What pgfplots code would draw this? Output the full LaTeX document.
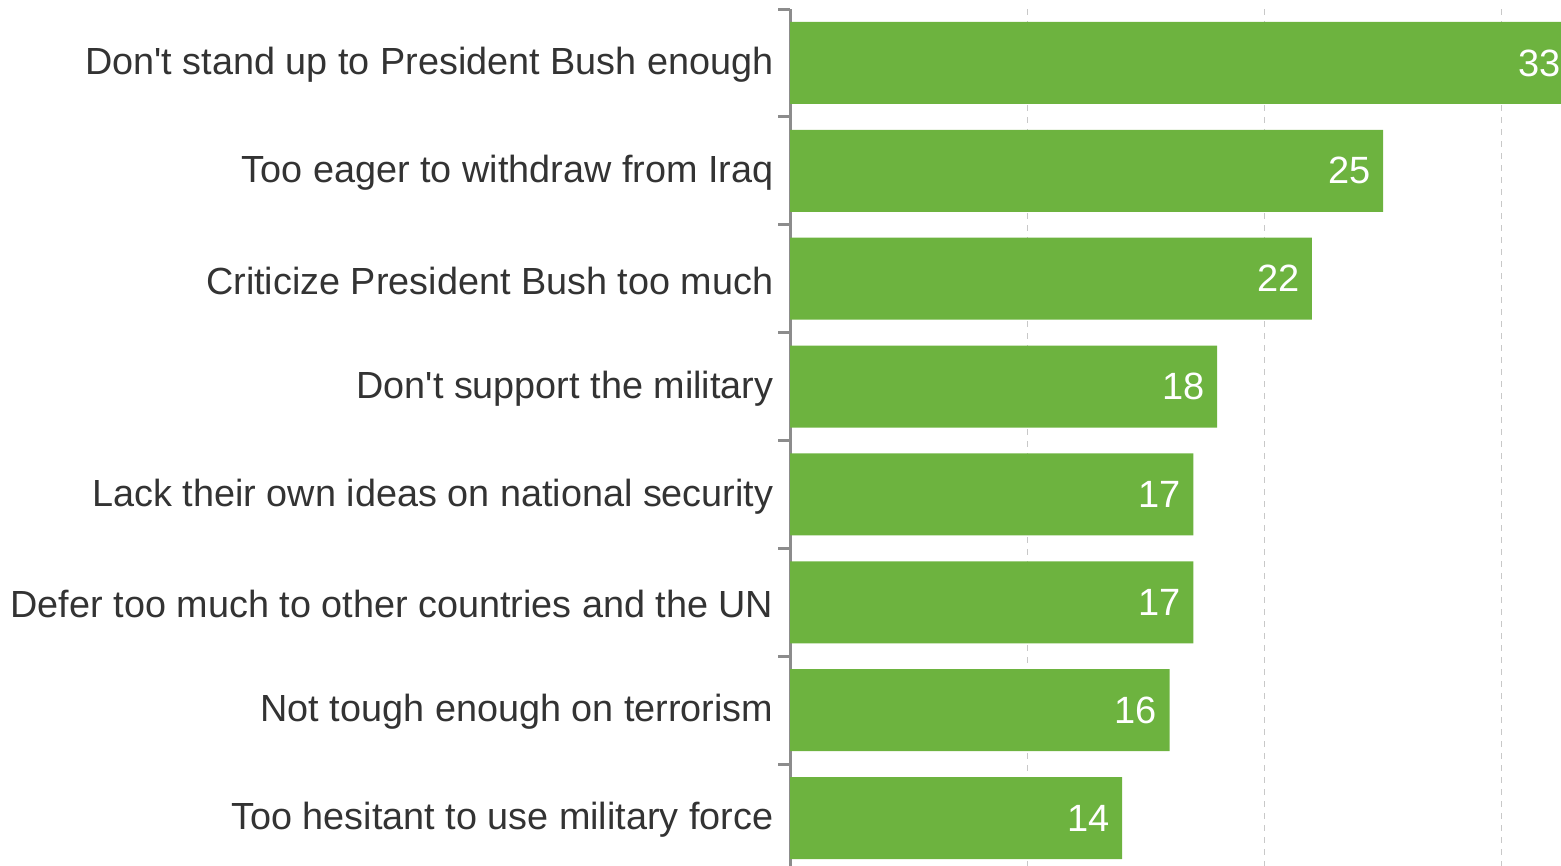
\documentclass[border=0pt]{standalone}
\usepackage{pgfplots}
\pgfplotsset{compat=1.18}
\usepackage{fontspec}
\setmainfont{Liberation Sans}
\definecolor{barg}{HTML}{6DB33F}
\definecolor{txt}{HTML}{333333}
\definecolor{axg}{HTML}{8C8C8C}
\definecolor{gridg}{HTML}{C8C8C8}
\newcommand{\q}{\textquotesingle}
\begin{document}
\begin{tikzpicture}
\useasboundingbox (0,0) rectangle (780.5pt,433pt);
\begin{axis}[
  at={(395pt,-3pt)}, anchor=south west,
  scale only axis, width=385.5pt, height=431.5pt,
  xbar, bar width=41pt, bar shift=0pt,
  xmin=0, xmax=32.5,
  ymin=-0.5, ymax=7.5, y dir=reverse,
  ytick={0,...,7},
  yticklabels={Don\q t stand up to President Bush enough,
    Too eager to withdraw from Iraq,
    Criticize President Bush too much,
    Don\q t support the military,
    Lack their own ideas on national security,
    Defer too much to other countries and the UN,
    Not tough enough on terrorism,
    Too hesitant to use military force},
  yticklabel style={font=\fontsize{18.9}{22}\selectfont, text=txt, anchor=east, xshift=-0.5pt, yshift=-1pt},
  major tick length=4.27pt,
  major y tick style={draw=none},
  minor ytick={-0.5,0.5,...,7.5},
  minor y tick style={draw=axg, line width=1.5pt},
  minor tick length=6pt,
  tick align=outside,
  xtick={10,20,30}, xticklabels={},
  major x tick style={draw=none},
  xmajorgrids, major grid style={gridg, dashed, line width=0.6pt},
  separate axis lines,
  axis y line*=left,
  x axis line style={draw=none},
  y axis line style={draw=axg, line width=1.5pt, -},
  clip=false,
  nodes near coords,
  nodes near coords style={font=\fontsize{19}{22}\selectfont, text=white, anchor=east, xshift=-2.7pt},
  point meta=explicit symbolic,
]
\addplot[fill=barg, draw=none] coordinates {
  (33,0) [33] (25,1) [25] (22,2) [22] (18,3) [18]
  (17,4) [17] (17,5) [17] (16,6) [16] (14,7) [14]};
\end{axis}
\end{tikzpicture}
\end{document}
